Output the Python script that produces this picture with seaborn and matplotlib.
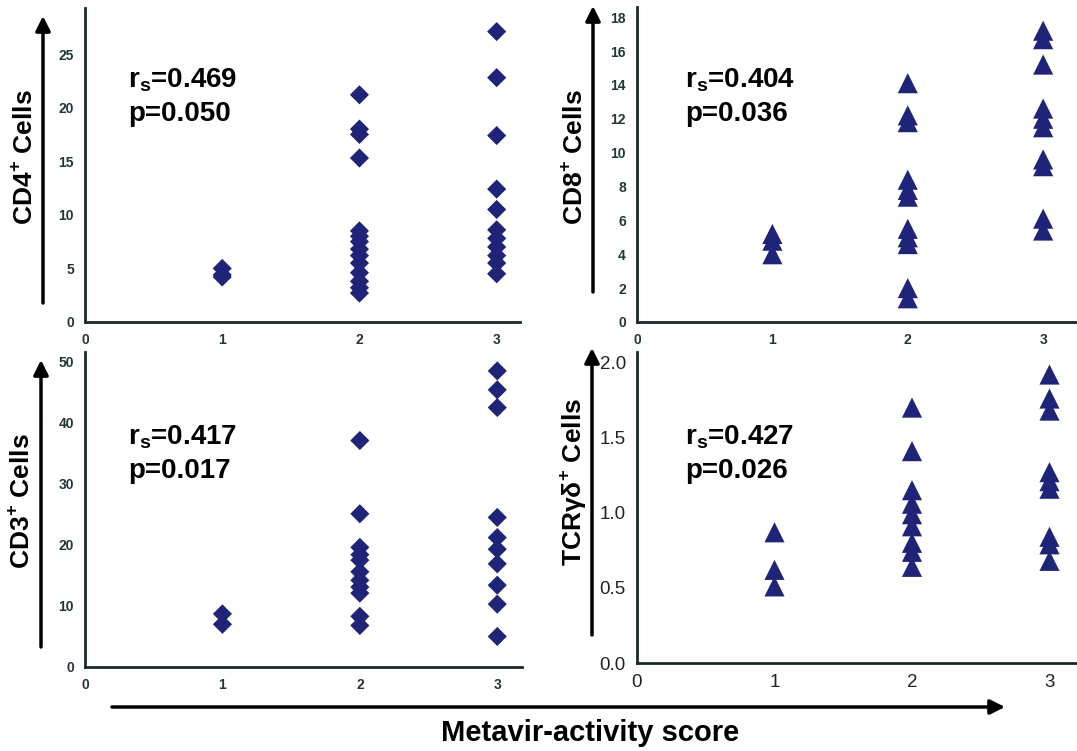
import matplotlib
matplotlib.use("Agg")
import matplotlib.pyplot as plt
import seaborn as sns
import pandas as pd

# Metavir-activity score groups
scores = [1, 2, 3]

# CD4+ cells per score
cd4_g1 = [5.0, 4.4, 4.2]
cd4_g2 = [21.2, 18.0, 17.5, 15.3, 8.5, 8.0, 7.5, 6.8, 6.2, 5.5, 4.6, 3.8, 3.2, 2.7]
cd4_g3 = [27.1, 22.8, 17.4, 12.4, 10.5, 8.6, 7.8, 7.0, 6.2, 5.5, 4.5]

# CD8+ cells per score
cd8_g1 = [5.2, 4.8, 4.0]
cd8_g2 = [14.1, 12.2, 11.8, 8.4, 7.8, 7.4, 5.5, 5.0, 4.6, 2.0, 1.4]
cd8_g3 = [17.2, 16.7, 15.2, 12.6, 12.0, 11.5, 9.6, 9.2, 6.1, 5.4]

# CD3+ cells per score
cd3_g1 = [8.7, 7.0]
cd3_g2 = [37.1, 25.1, 19.6, 18.4, 17.5, 15.6, 14.2, 13.1, 12.1, 8.3, 6.8]
cd3_g3 = [48.5, 45.4, 42.5, 24.5, 21.2, 19.3, 16.9, 13.4, 10.3, 5.0]

# TCRgd+ cells per score
tcr_g1 = [0.87, 0.62, 0.51]
tcr_g2 = [1.70, 1.41, 1.15, 1.06, 0.99, 0.91, 0.80, 0.74, 0.64]
tcr_g3 = [1.92, 1.76, 1.68, 1.27, 1.21, 1.16, 0.84, 0.79, 0.68]

labels = ["CD4$^\\mathregular{+}$ Cells", "CD8$^\\mathregular{+}$ Cells",
          "CD3$^\\mathregular{+}$ Cells", "TCR\u03b3\u03b4$^\\mathregular{+}$ Cells"]
rs_vals = ["0.469", "0.404", "0.417", "0.427"]
p_vals = ["0.050", "0.036", "0.017", "0.026"]

sns.set_style("white")
plt.rcParams["font.family"] = ["Liberation Sans", "DejaVu Sans"]
plt.rcParams["text.color"] = "black"

W, H = 1077, 751
NAVY = "#1f2479"
AXC = "#1a2a2a"


def make_df(g1, g2, g3):
    xs = [scores[0]] * len(g1) + [scores[1]] * len(g2) + [scores[2]] * len(g3)
    return pd.DataFrame({"score": xs, "value": g1 + g2 + g3})


def px_axes(fig, left, right, top, bottom):
    return fig.add_axes([left / W, 1 - bottom / H, (right - left) / W, (bottom - top) / H])


fig = plt.figure(figsize=(W / 100, H / 100), dpi=100)

panels = [
    # data, pixel box, xlim right, ylim top, yticks, marker, tick size, tick fmt
    (make_df(cd4_g1, cd4_g2, cd4_g3), (85, 520, 8, 322), 3.17, 29.3, [0, 5, 10, 15, 20, 25], "D", 10, "{:g}"),
    (make_df(cd8_g1, cd8_g2, cd8_g3), (637, 1077, 7, 322), 3.25, 18.6, list(range(0, 19, 2)), "^", 10, "{:g}"),
    (make_df(cd3_g1, cd3_g2, cd3_g3), (85, 522, 352, 667), 3.18, 51.6, [0, 10, 20, 30, 40, 50], "D", 10, "{:g}"),
    (make_df(tcr_g1, tcr_g2, tcr_g3), (637, 1077, 352, 663), 3.2, 2.07, [0, 0.5, 1.0, 1.5, 2.0], "^", 13.5, "{:.1f}"),
]

for i, (df, box, xr, ytop, yt, mk, tsz, fmt) in enumerate(panels):
    ax = px_axes(fig, *box)
    size = 95 if mk == "D" else 210
    sns.scatterplot(data=df, x="score", y="value", marker=mk, s=size, color=NAVY,
                    edgecolor="none", ax=ax, legend=False, zorder=3)
    ax.set_xlim(0, xr)
    ax.set_ylim(0, ytop)
    ax.set_xticks([0, 0.5, 1, 1.5, 2, 2.5, 3])
    ax.set_xticklabels(["0", "", "1", "", "2", "", "3"])
    ax.set_yticks(yt)
    ax.set_yticklabels([fmt.format(v) for v in yt])
    ax.set_xlabel("")
    ax.set_ylabel("")
    sns.despine(ax=ax)
    for sp in ("left", "bottom"):
        ax.spines[sp].set_linewidth(2)
        ax.spines[sp].set_color(AXC)
    ax.tick_params(axis="both", direction="out", length=5, width=1.8, color=AXC,
                   labelsize=tsz, labelcolor="#223838" if tsz < 12 else "#222222", pad=3)
    for t in ax.get_xticklabels() + ax.get_yticklabels():
        t.set_fontweight("bold" if tsz < 12 else "normal")
    ax.patch.set_alpha(0)

# overlay in pixel coordinates for arrows and texts
ov = fig.add_axes([0, 0, 1, 1], zorder=-1)
ov.set_xlim(0, W)
ov.set_ylim(H, 0)
ov.axis("off")

arrow_kw = dict(arrowstyle="-|>", lw=2.5, color="black", mutation_scale=22, shrinkA=0, shrinkB=0)
y_arrows = [(43, 303, 16), (593, 292, 6), (41, 647, 360), (592, 635, 348)]
for x, y0, y1 in y_arrows:
    ov.annotate("", xy=(x, y1), xytext=(x, y0), arrowprops=arrow_kw)
ov.annotate("", xy=(1005, 707), xytext=(112, 707), arrowprops=arrow_kw)

ylab_pos = [(24, 157), (574, 157), (22, 501), (573, 482)]
for (x, y), lab in zip(ylab_pos, labels):
    ov.text(x, y, lab, rotation=90, ha="center", va="center", fontsize=19, fontweight="bold")

stat_pos = [(128, 80), (685, 80), (128, 437), (685, 437)]
for (x, y), r, p in zip(stat_pos, rs_vals, p_vals):
    ov.text(x, y, "r$_\\mathregular{s}$=" + r, ha="left", va="center", fontsize=20, fontweight="bold")
    ov.text(x, y + 34, "p=" + p, ha="left", va="center", fontsize=20, fontweight="bold")

ov.text(590, 733, "Metavir-activity score", ha="center", va="center", fontsize=21, fontweight="bold")

fig.savefig("out.png", dpi=100)
